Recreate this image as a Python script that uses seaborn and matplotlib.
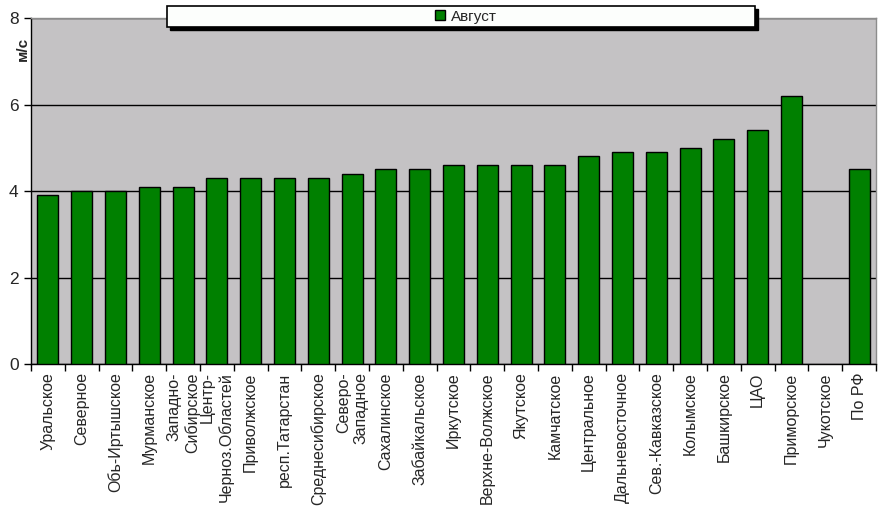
import numpy as np
import pandas as pd
import matplotlib
matplotlib.use("Agg")
import matplotlib.pyplot as plt
import matplotlib.ticker as mtick
from matplotlib.patches import Rectangle
import seaborn as sns

# подписи по оси X (УГМС)
regions = [
    "Уральское", "Северное", "Обь-Иртышское", "Мурманское",
    "Западно-\nСибирское", "Центр-\nЧерноз.Областей", "Приволжское",
    "респ.Татарстан", "Среднесибирское", "Северо-\nЗападное", "Сахалинское",
    "Забайкальское", "Иркутское", "Верхне-Волжское", "Якутское", "Камчатское",
    "Центральное", "Дальневосточное", "Сев.-Кавказское", "Колымское",
    "Башкирское", "ЦАО", "Приморское", "Чукотское", "По РФ",
]
# средняя скорость ветра, м/с (Чукотское - нет данных)
august = [
    3.9, 4.0, 4.0, 4.1, 4.1, 4.3, 4.3, 4.3, 4.3, 4.4, 4.5, 4.5, 4.6,
    4.6, 4.6, 4.6, 4.8, 4.9, 4.9, 5.0, 5.2, 5.4, 6.2, np.nan, 4.5,
]
series_name = "Август"
y_ticks = [0, 2, 4, 6, 8]

df = pd.DataFrame({"region": regions, "value": august})

sns.set_style("white")
plt.rcParams["font.family"] = ["Liberation Sans", "DejaVu Sans"]

fig = plt.figure(figsize=(8.81, 5.16), dpi=100, facecolor="white")
ax = fig.add_axes([31 / 881, 152 / 516, 845 / 881, 346 / 516])
ax.set_facecolor("#c4c2c4")

sns.barplot(data=df, x="region", y="value", order=regions, color="#008000",
            edgecolor="black", linewidth=1.0, width=0.62, saturation=1,
            label=series_name, ax=ax, zorder=3)

ax.set_xlim(-0.5, len(regions) - 0.5)
ax.set_ylim(0, 8)
ax.set_yticks(y_ticks)
ax.yaxis.grid(True, color="black", linewidth=1.0, zorder=1)
ax.set_axisbelow(True)

# штрихи оси X между категориями
ax.xaxis.set_minor_locator(mtick.FixedLocator(np.arange(-0.5, len(regions), 1.0)))
ax.tick_params(axis="x", which="major", length=0, pad=6)
ax.tick_params(axis="x", which="minor", length=5, width=1, color="black", direction="out", bottom=True)
ax.tick_params(axis="y", which="major", length=5, width=1, color="black", direction="out",
               left=True, labelsize=12.5, pad=4)

ax.set_xticks(range(len(regions)))
ax.set_xticklabels(regions, rotation=90, fontsize=11.5, ha="center", va="top",
                   multialignment="right")

ax.set_xlabel("")
ax.set_ylabel("м/с", fontsize=11, fontweight="bold")
ax.yaxis.set_label_coords(-0.001, 0.912)

for side in ["left", "bottom"]:
    ax.spines[side].set_color("black")
    ax.spines[side].set_linewidth(1.0)
for side in ["top", "right"]:
    ax.spines[side].set_color("#8c8c8c")
    ax.spines[side].set_linewidth(1.0)

# рамка легенды с тенью
x0, y0, w, h = 167 / 881, 1 - 27 / 516, (755 - 167) / 881, 21 / 516
shadow = Rectangle((x0 + 3 / 881, y0 - 3 / 516), w, h, transform=fig.transFigure,
                   facecolor="black", edgecolor="black", zorder=8, clip_on=False)
frame = Rectangle((x0, y0), w, h, transform=fig.transFigure,
                  facecolor="#fcfefc", edgecolor="black", linewidth=1.2, zorder=9, clip_on=False)
ax.add_artist(shadow)
ax.add_artist(frame)
leg = ax.legend(loc="center", bbox_to_anchor=(466 / 881, 1 - 16.5 / 516),
                bbox_transform=fig.transFigure, frameon=False, fontsize=11,
                handlelength=0.6, handleheight=0.6, handletextpad=0.4)
leg.set_zorder(10)

fig.savefig("out.png", dpi=100, facecolor="white")
